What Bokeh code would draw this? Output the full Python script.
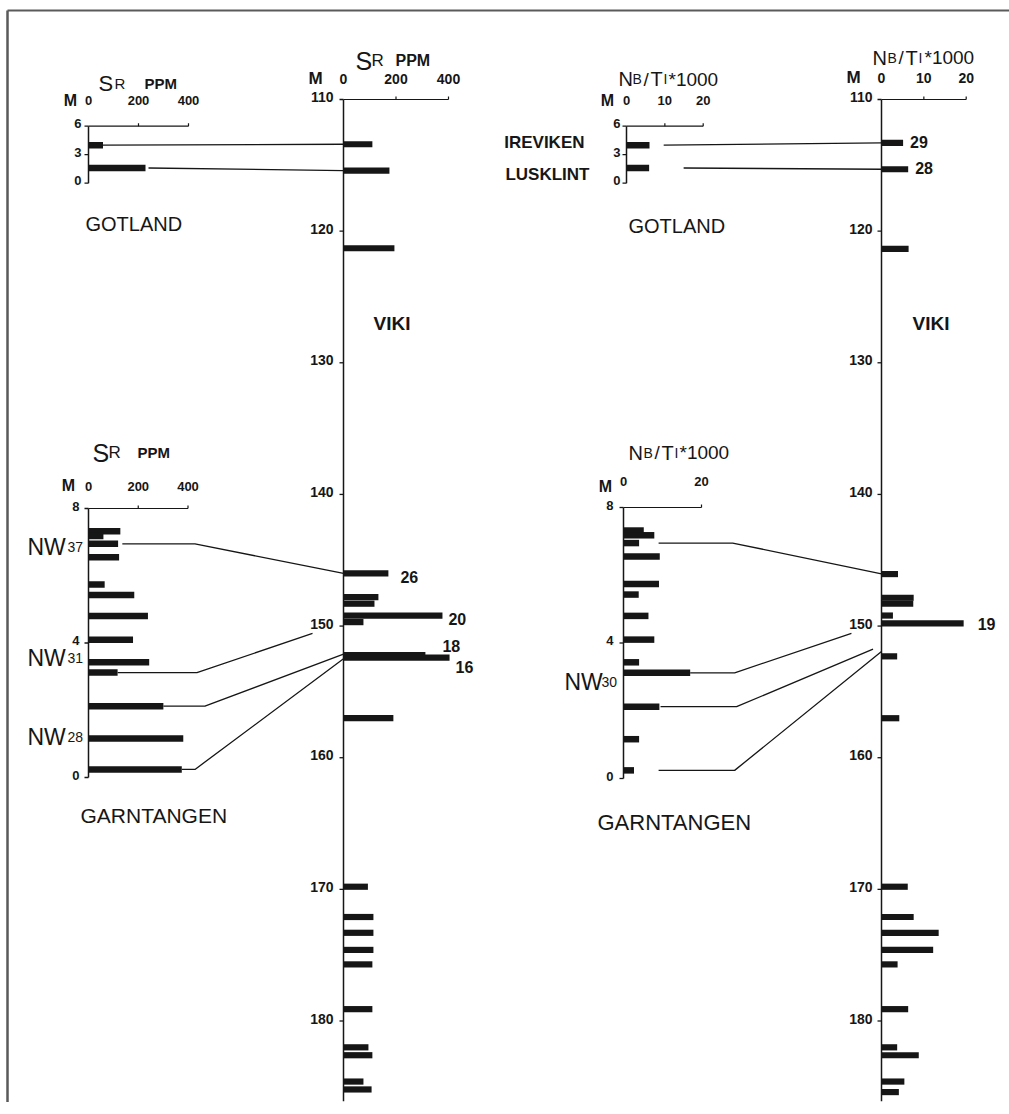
from bokeh.plotting import figure
from bokeh.models import Range1d
from bokeh.embed import file_html
from bokeh.resources import INLINE
from bokeh.core.properties import value

# ---------------------------------------------------------------- data
# Gotland (Ireviken, Lusklint): depth (m), Sr (ppm), Nb/Ti*1000
gotland_sites = ["IREVIKEN", "LUSKLINT"]
gotland_depth = [4.0, 1.6]
gotland_sr = [58, 228]
gotland_nbti = [6.0, 5.9]
gotland_depth_ticks = [0, 3, 6]

# Viki core: depth (m)
viki_sr_depth = [113.4, 115.4, 121.3, 146.0, 147.8, 148.3, 149.2, 149.7, 152.2, 152.4, 157.0,
                 169.8, 172.1, 173.3, 174.6, 175.7, 179.1, 182.0, 182.6, 184.6, 185.2]
viki_sr = [110, 175, 194, 171, 133, 118, 377, 76, 312, 404, 190,
           93, 114, 114, 114, 110, 110, 95, 110, 76, 107]
viki_sr_sample = ["", "", "", "26", "", "", "20", "", "18", "16", "",
                  "", "", "", "", "", "", "", "", "", ""]
viki_nb_depth = [113.3, 115.3, 121.35, 146.05, 147.85, 148.3, 149.2, 149.8, 152.3, 157.0,
                 169.8, 172.1, 173.3, 174.6, 175.7, 179.1, 182.0, 182.6, 184.6, 185.4]
viki_nbti = [5.1, 6.3, 6.4, 3.9, 7.6, 7.5, 2.7, 19.4, 3.7, 4.2,
             6.2, 7.6, 13.5, 12.2, 3.8, 6.3, 3.7, 8.8, 5.4, 4.1]
viki_nb_sample = ["29", "28", "", "", "", "", "", "19", "", "",
                  "", "", "", "", "", "", "", "", "", ""]
viki_depth_ticks = [110, 120, 130, 140, 150, 160, 170, 180]
viki_depth_bottom = 186.1

# Garntangen: depth (m)
garn_depth = [7.32, 7.18, 6.95, 6.55, 5.74, 5.43, 4.80, 4.10, 3.43, 3.12, 2.12, 1.16, 0.24]
garn_sr = [128, 60, 119, 123, 65, 184, 239, 179, 244, 117, 301, 381, 375]
garn_nbti = [5.2, 7.9, 4.0, 9.3, 9.1, 3.9, 6.4, 7.9, 4.0, 17.1, 9.2, 4.0, 2.7]
garn_depth_ticks = [0, 4, 8]
garn_sr_levels = ["37", "31", "28"]
garn_sr_level_depth = [6.85, 3.55, 1.19]
garn_nb_levels = ["30"]
garn_nb_level_depth = [2.84]

sr_ticks = [0, 200, 400]
nb_ticks = [0, 10, 20]
nb_ticks_garn = [0, 20]

# correlation (tie) lines: source level -> Viki level
gotland_viki_sr_depth = [113.4, 115.4]
gotland_viki_nb_depth = [113.3, 115.3]
garn_tie_depth = [6.95, 3.12, 2.12, 0.24]
garn_viki_sr_depth = [146.0, 150.56, 152.13, 152.49]
garn_viki_nb_depth = [146.03, 150.56, 151.75, 151.93]

# ---------------------------------------------------------------- layout
INK = "#161616"
FONT = "Liberation Sans"
W, H, M = 1009, 1102, 0   # figure sits at the page's top-left corner

p = figure(width=W, height=H, output_backend="svg", toolbar_location=None,
           x_range=Range1d(M, M + W), y_range=Range1d(M + H, M),
           x_axis_location=None, y_axis_location=None, min_border=0,
           outline_line_color=None, background_fill_color="white",
           border_fill_color="white")
p.grid.visible = False


class Panel:
    def __init__(self, name, xa, xb, ya, yb):
        self.name = name
        self.xv0, self.xp0 = xa
        self.yv0, self.yp0 = ya
        self.sx = (xb[1] - xa[1]) / (xb[0] - xa[0])
        self.sy = (yb[1] - ya[1]) / (yb[0] - ya[0])
        x_lo = self.xv0 + (M - self.xp0) / self.sx
        x_hi = self.xv0 + (M + W - self.xp0) / self.sx
        y_top = self.yv0 + (M - self.yp0) / self.sy
        y_bot = self.yv0 + (M + H - self.yp0) / self.sy
        p.extra_x_ranges[name] = Range1d(x_lo, x_hi)
        p.extra_y_ranges[name] = Range1d(y_bot, y_top)
        self.kw = dict(x_range_name=name, y_range_name=name)

    def page(self, xv, yv):
        return (self.xp0 + (xv - self.xv0) * self.sx,
                self.yp0 + (yv - self.yv0) * self.sy)

    def dx(self, px):
        return px / self.sx

    def up(self, px):
        return -px / self.sy


A = Panel("got_sr", (0, 88), (400, 188), (0, 182.7), (6, 125.7))
B = Panel("viki_sr", (0, 343), (400, 448), (110, 99), (180, 1020.5))
C = Panel("garn_sr", (0, 88), (400, 187.5), (0, 777), (8, 508))
D = Panel("got_nb", (0, 626), (20, 702.7), (0, 182.7), (6, 125.7))
E = Panel("viki_nb", (0, 881), (20, 965.7), (110, 99), (180, 1020.5))
F = Panel("garn_nb", (0, 623), (20, 701), (0, 778), (8, 507))


def txt(pn, xs, ys, texts, size, bold=False, align="left", baseline="alphabetic", dx=0, dy=0):
    p.text(x=list(xs), y=list(ys), text=list(texts), text_font=value(FONT),
           text_font_size=f"{size}px", text_font_style="bold" if bold else "normal",
           text_align=align, text_baseline=baseline, x_offset=dx, y_offset=dy,
           text_color=INK, **pn.kw)


def axis(pn, top, bottom, xticks, yticks, xlab_dy, m_dx, m_dy, ylab_dx, lab_size):
    xmax = max(xticks)
    p.line([0, 0], [top, bottom], line_color=INK, line_width=1.5, **pn.kw)
    p.line([0, xmax], [top, top], line_color=INK, line_width=1.2, **pn.kw)
    n = len(yticks)
    p.segment(x0=[pn.dx(-4)] * n, y0=yticks, x1=[0] * n, y1=yticks,
              line_color=INK, line_width=1.3, **pn.kw)
    xt = [t for t in xticks if t != 0]
    p.segment(x0=xt, y0=[top] * len(xt), x1=xt, y1=[top + pn.up(3)] * len(xt),
              line_color=INK, line_width=1.2, **pn.kw)
    txt(pn, [0] * n, yticks, [str(t) for t in yticks], lab_size, True,
        "right", "middle", ylab_dx, -2.5)
    txt(pn, xticks, [top] * len(xticks), [str(t) for t in xticks], lab_size, True,
        "center", "middle", 0, xlab_dy)
    txt(pn, [0], [top], ["M"], lab_size + 3, True, "center", "middle", m_dx, m_dy)


def title(pn, top, pieces, dy):
    for t, ddx, size, bold in pieces:
        txt(pn, [0], [top], [t], size, bold, "left", "alphabetic", ddx, dy)


def bars(pn, depth, vals, px=6.2):
    p.hbar(y=depth, left=0, right=vals, height=px / abs(pn.sy),
           fill_color=INK, line_color=None, **pn.kw)


# border (top and left edges of the scanned frame), page coordinates
p.line([7, M + W], [10, 10], line_color="#5a5a5a", line_width=2)
p.line([7, 7], [10, M + H], line_color="#5a5a5a", line_width=2.5)

# axes
axis(A, 6, 0, sr_ticks, gotland_depth_ticks, -26, -18, -26, -7, 13)
axis(B, 110, viki_depth_bottom, sr_ticks, viki_depth_ticks, -21, -28, -21, -10, 14)
axis(C, 8, 0, sr_ticks, garn_depth_ticks, -22, -20, -23, -9, 13)
axis(D, 6, 0, nb_ticks, gotland_depth_ticks, -26, -19, -26, -6, 13)
axis(E, 110, viki_depth_bottom, nb_ticks, viki_depth_ticks, -22, -28, -22, -9, 14)
axis(F, 8, 0, nb_ticks_garn, garn_depth_ticks, -26, -18, -21, -10, 13)

# titles
title(A, 6, [("S", 10, 22, False), ("R", 26, 15, False), ("PPM", 56, 15, True)], -43)
title(B, 110, [("S", 12, 25, False), ("R", 28, 17, False), ("PPM", 52, 16, True)], -39)
title(C, 8, [("S", 4, 25, False), ("R", 20, 17, False), ("PPM", 49, 15, True)], -56)
nb_pieces = lambda o: [("N", o[0], 20, False), ("B", o[1], 14, False), ("/", o[2], 19, False),
                       ("T", o[3], 20, False), ("I", o[4], 14, False), ("*1000", o[5], 19, False)]
title(D, 6, nb_pieces([-8, 6, 17, 24, 37, 42]), -47)
title(E, 110, nb_pieces([-9, 6, 17, 24, 37, 43]), -42)
title(F, 8, nb_pieces([5, 20, 31, 38, 51, 56]), -55)

# site names
txt(A, [0], [0], ["GOTLAND"], 20, False, "left", "alphabetic", -3, 41)
txt(D, [0], [0], ["GOTLAND"], 20, False, "left", "alphabetic", 2, 43)
txt(C, [0], [0], ["GARNTANGEN"], 21, False, "left", "alphabetic", -8, 38)
txt(F, [0], [0], ["GARNTANGEN"], 22, False, "left", "alphabetic", -26, 44)
txt(B, [0], [110], ["VIKI"], 19, True, "left", "alphabetic", 30, 224)
txt(E, [0], [110], ["VIKI"], 19, True, "left", "alphabetic", 31, 224)
site_off = [(-42, -3), (-37, 6)]
for s, d, (ox, oy) in zip(gotland_sites, gotland_depth, site_off):
    txt(D, [0], [d], [s], 17, True, "right", "middle", ox, oy)

# levels (NW..)
for lv, d in zip(garn_sr_levels, garn_sr_level_depth):
    txt(C, [0], [d], ["NW"], 23, False, "left", "alphabetic", -61, 0)
    txt(C, [0], [d], [lv], 14, False, "left", "alphabetic", -21, 0)
for lv, d in zip(garn_nb_levels, garn_nb_level_depth):
    txt(F, [0], [d], ["NW"], 23, False, "left", "alphabetic", -59, 0)
    txt(F, [0], [d], [lv], 14, False, "left", "alphabetic", -22, 0)

# bars
bars(A, gotland_depth, gotland_sr, 6.5)
bars(D, gotland_depth, gotland_nbti, 6.5)
bars(B, viki_sr_depth, viki_sr, 6.2)
bars(E, viki_nb_depth, viki_nbti, 6.2)
bars(C, garn_depth, garn_sr, 6.5)
bars(F, garn_depth, garn_nbti, 6.5)

# sample numbers
sr_lab_off = {"26": (12, 4), "20": (6, 3), "18": (17, -9.5), "16": (6, 9)}
nb_lab_off = {"29": (7, -1), "28": (7, -1), "19": (14, 1)}
for s, d, v in zip(viki_sr_sample, viki_sr_depth, viki_sr):
    if s:
        ox, oy = sr_lab_off[s]
        txt(B, [v], [d], [s], 16, True, "left", "middle", ox, oy)
for s, d, v in zip(viki_nb_sample, viki_nb_depth, viki_nbti):
    if s:
        ox, oy = nb_lab_off[s]
        txt(E, [v], [d], [s], 16, True, "left", "middle", ox, oy)


# tie lines (drawn across panels, in page coordinates from each panel's scale)
def tie(src, sd, xs, xk, dst, dd, xe):
    pts = [src.page(xs, sd)]
    if xk is not None:
        pts.append(src.page(xk, sd))
    pts.append(dst.page(xe, dd))
    p.line([q[0] for q in pts], [q[1] for q in pts], line_color=INK, line_width=1.3)


for sd, dd, xs in zip(gotland_depth, gotland_viki_sr_depth, [58, 240]):
    tie(A, sd, xs, None, B, dd, 0)
for sd, dd, xs in zip(gotland_depth, gotland_viki_nb_depth, [9.7, 14.9]):
    tie(D, sd, xs, None, E, dd, 0)
for sd, dd, xs, xk, xe in zip(garn_tie_depth, garn_viki_sr_depth,
                              [136, 117, 301, 375], [428, 436, 468, 428], [0, -118, 0, 0]):
    tie(C, sd, xs, xk, B, dd, xe)
for sd, dd, xs, xk, xe in zip(garn_tie_depth, garn_viki_nb_depth,
                              [9.0, 17.1, 9.5, 9.0], [28.0, 28.5, 29.0, 28.5], [0, -7.1, -2.0, 0]):
    tie(F, sd, xs, xk, E, dd, xe)

open("out.html", "w").write(file_html(p, INLINE))
